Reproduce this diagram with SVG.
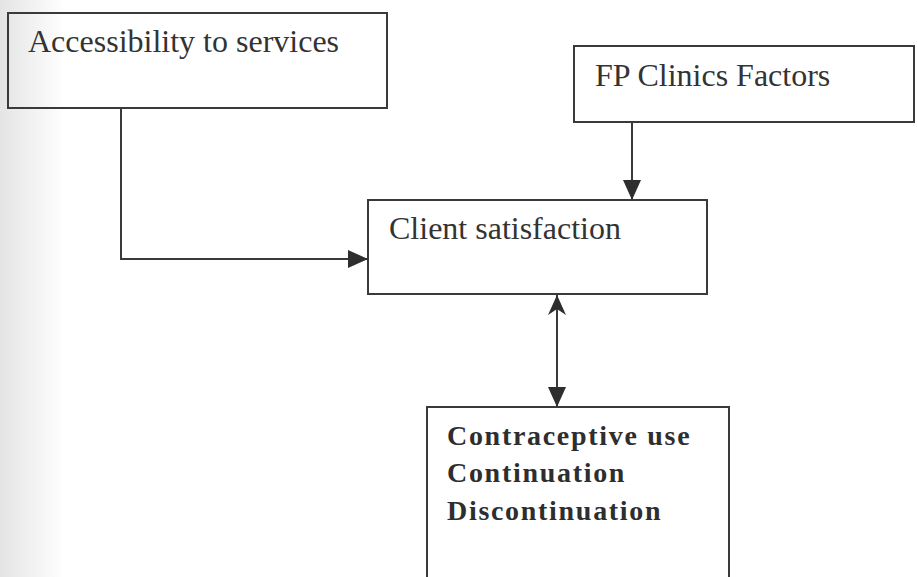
<svg xmlns="http://www.w3.org/2000/svg" width="918" height="577" viewBox="0 0 918 577">
  <defs>
    <linearGradient id="scan" x1="0" y1="0" x2="1" y2="0">
      <stop offset="0" stop-color="#e4e4e4"/>
      <stop offset="1" stop-color="#ffffff"/>
    </linearGradient>
    <marker id="arrowBig" viewBox="0 0 20 18" refX="20" refY="9" markerWidth="20" markerHeight="18" markerUnits="userSpaceOnUse" orient="auto-start-reverse">
      <path d="M0,0 L20,9 L0,18 Z" fill="#2e2e2e"/>
    </marker>
    <marker id="arrowNotch" viewBox="0 0 20 18" refX="20" refY="9" markerWidth="20" markerHeight="18" markerUnits="userSpaceOnUse" orient="auto-start-reverse">
      <path d="M0,0 L20,9 L0,18 L6,9 Z" fill="#2e2e2e"/>
    </marker>
  </defs>
  <style>
    .box { fill: none; stroke: #3a3a3a; stroke-width: 2; }
    .lbl { font-family: "Liberation Serif", "Times New Roman", serif; font-size: 32px; fill: #333333; }
    .bold { font-family: "Liberation Serif", "Times New Roman", serif; font-size: 28px; font-weight: bold; letter-spacing: 1.7px; fill: #2e2e2e; }
    .conn { fill: none; stroke: #3a3a3a; stroke-width: 2; }
  </style>
  <rect x="0" y="0" width="918" height="577" fill="#ffffff"/>
  <rect x="0" y="0" width="65" height="577" fill="url(#scan)"/>

  <g id="accessibility">
    <rect class="box" x="8" y="13" width="379" height="95"/>
    <text class="lbl" x="28" y="52">Accessibility to services</text>
  </g>

  <g id="fp-clinics">
    <rect class="box" x="574" y="46" width="340" height="76"/>
    <text class="lbl" x="595" y="86">FP Clinics Factors</text>
  </g>

  <g id="client-satisfaction">
    <rect class="box" x="368" y="200" width="339" height="94"/>
    <text class="lbl" x="389" y="239">Client satisfaction</text>
  </g>

  <g id="contraceptive-use">
    <rect class="box" x="427" y="407" width="302" height="190"/>
    <text class="bold" x="447" y="445">Contraceptive use</text>
    <text class="bold" x="447" y="482">Continuation</text>
    <text class="bold" x="447" y="520">Discontinuation</text>
  </g>

  <g id="connectors">
    <path class="conn" d="M121,108 L121,259 L368,259" marker-end="url(#arrowBig)"/>
    <path class="conn" d="M632,122 L632,200" marker-end="url(#arrowBig)"/>
    <path class="conn" d="M557,295 L557,407" marker-start="url(#arrowNotch)" marker-end="url(#arrowBig)"/>
  </g>
</svg>
